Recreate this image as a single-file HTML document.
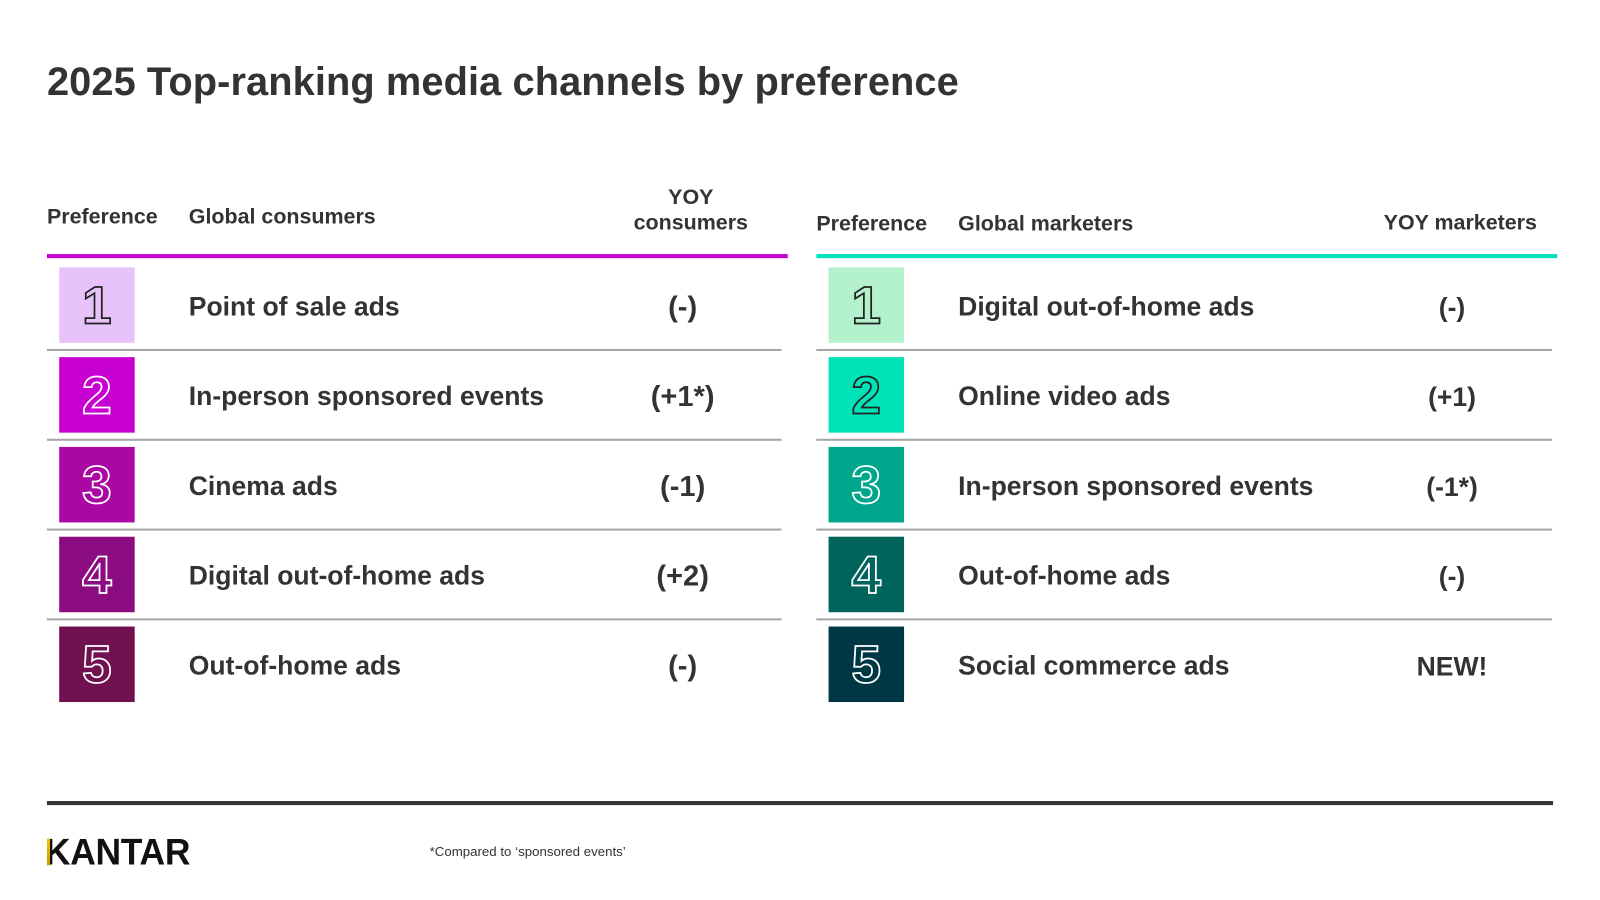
<!DOCTYPE html>
<html><head><meta charset="utf-8">
<style>
html,body{margin:0;padding:0;background:#fff;}
body{width:1600px;height:900px;position:relative;overflow:hidden;font-family:"Liberation Sans",Arial,sans-serif;color:#333;}
#w{position:absolute;left:0;top:0;width:1568px;height:882px;transform:scale(1.0204);transform-origin:0 0;}
.a{position:absolute;}
.title{left:46px;top:58px;font-size:39px;font-weight:bold;line-height:46px;white-space:nowrap;letter-spacing:0.08px;}
.h{font-size:21px;font-weight:bold;line-height:25px;white-space:nowrap;}
.box{position:absolute;width:74px;height:74px;text-align:center;line-height:77px;font-size:52px;font-weight:bold;color:transparent;-webkit-text-stroke:1.7px #fff;}
.row{position:absolute;height:74px;line-height:74px;font-size:26px;font-weight:bold;white-space:nowrap;}
.val{position:absolute;height:74px;line-height:74px;font-size:26px;font-weight:bold;text-align:center;width:200px;white-space:nowrap;}
.lv{font-size:28.5px;}
.sep{position:absolute;height:2px;background:#a6a6a6;}
</style></head><body>
<div id="w">
<div class="a title">2025 Top-ranking media channels by preference</div>

<!-- Left table header -->
<div class="a h" style="left:46px;top:200px;">Preference</div>
<div class="a h" style="left:185px;top:200px;">Global consumers</div>
<div class="a h" style="left:577px;top:181px;width:200px;text-align:center;">YOY<br>consumers</div>
<div class="a" style="left:46px;top:249px;width:726px;height:4px;background:#c800d2;"></div>

<!-- Right table header -->
<div class="a h" style="left:800px;top:207px;">Preference</div>
<div class="a h" style="left:939px;top:207px;">Global marketers</div>
<div class="a h" style="left:1356px;top:206px;">YOY marketers</div>
<div class="a" style="left:800px;top:249px;width:726px;height:4px;background:#00e3b9;"></div>

<!-- Left boxes -->
<div class="box" style="left:58px;top:262px;background:#e8c3fb;-webkit-text-stroke:1.7px #222;">1</div>
<div class="box" style="left:58px;top:350px;background:#c800d2;">2</div>
<div class="box" style="left:58px;top:438px;background:#aa08a2;">3</div>
<div class="box" style="left:58px;top:526px;background:#8b0c80;">4</div>
<div class="box" style="left:58px;top:614px;background:#701150;">5</div>

<!-- Right boxes -->
<div class="box" style="left:812px;top:262px;background:#b3f2cc;-webkit-text-stroke:1.7px #222;">1</div>
<div class="box" style="left:812px;top:350px;background:#00e3b9;-webkit-text-stroke:1.7px #222;">2</div>
<div class="box" style="left:812px;top:438px;background:#00a68b;">3</div>
<div class="box" style="left:812px;top:526px;background:#00635c;">4</div>
<div class="box" style="left:812px;top:614px;background:#003744;">5</div>

<!-- Left rows -->
<div class="row" style="left:185px;top:263px;">Point of sale ads</div>
<div class="row" style="left:185px;top:351px;">In-person sponsored events</div>
<div class="row" style="left:185px;top:439px;">Cinema ads</div>
<div class="row" style="left:185px;top:527px;">Digital out-of-home ads</div>
<div class="row" style="left:185px;top:615px;">Out-of-home ads</div>

<div class="val lv" style="left:569px;top:264px;">(-)</div>
<div class="val lv" style="left:569px;top:352px;">(+1*)</div>
<div class="val lv" style="left:569px;top:440px;">(-1)</div>
<div class="val lv" style="left:569px;top:528px;">(+2)</div>
<div class="val lv" style="left:569px;top:616px;">(-)</div>

<!-- Right rows -->
<div class="row" style="left:939px;top:263px;">Digital out-of-home ads</div>
<div class="row" style="left:939px;top:351px;">Online video ads</div>
<div class="row" style="left:939px;top:439px;">In-person sponsored events</div>
<div class="row" style="left:939px;top:527px;">Out-of-home ads</div>
<div class="row" style="left:939px;top:615px;">Social commerce ads</div>

<div class="val" style="left:1323px;top:264px;">(-)</div>
<div class="val" style="left:1323px;top:352px;">(+1)</div>
<div class="val" style="left:1323px;top:440px;">(-1*)</div>
<div class="val" style="left:1323px;top:528px;">(-)</div>
<div class="val" style="left:1323px;top:616px;">NEW!</div>

<!-- Separators -->
<div class="sep" style="left:46px;top:342px;width:720px;"></div>
<div class="sep" style="left:46px;top:430px;width:720px;"></div>
<div class="sep" style="left:46px;top:518px;width:720px;"></div>
<div class="sep" style="left:46px;top:606px;width:720px;"></div>
<div class="sep" style="left:800px;top:342px;width:721px;"></div>
<div class="sep" style="left:800px;top:430px;width:721px;"></div>
<div class="sep" style="left:800px;top:518px;width:721px;"></div>
<div class="sep" style="left:800px;top:606px;width:721px;"></div>

<!-- Footer -->
<div class="a" style="left:46px;top:785px;width:1476px;height:4px;background:#333;"></div>
<div class="a" style="left:44px;top:815px;font-size:36px;font-weight:bold;line-height:40px;color:#111;transform:scaleX(0.965);transform-origin:left top;letter-spacing:-0.3px;">KANTAR</div>
<div class="a" style="left:46px;top:822px;width:3px;height:26px;background:linear-gradient(#f5c400,#c99a00);"></div>
<div class="a" style="left:421px;top:827px;font-size:13px;line-height:16px;color:#333;white-space:nowrap;">*Compared to ‘sponsored events’</div>
</div>
</body></html>
